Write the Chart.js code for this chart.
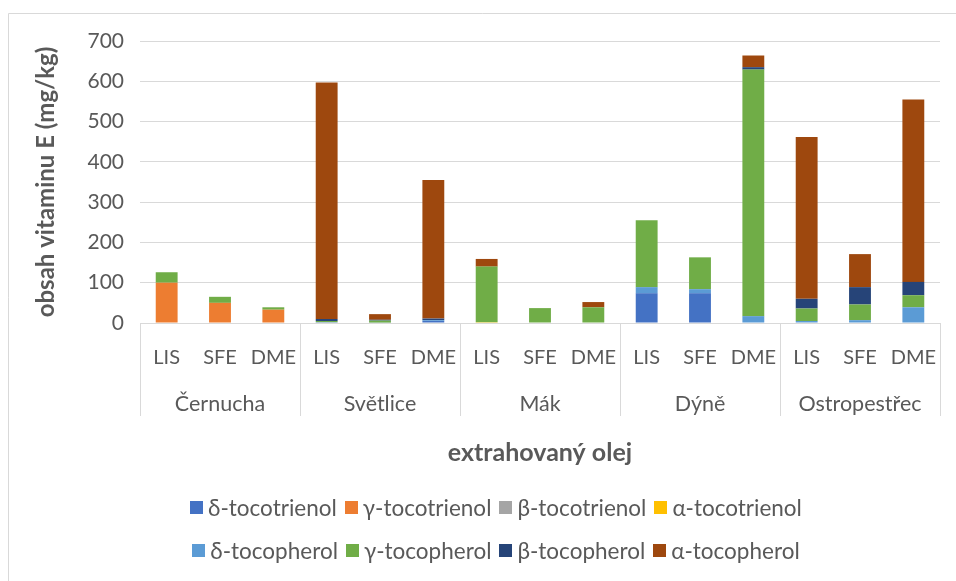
<!DOCTYPE html>
<html lang="cs">
<head>
<meta charset="utf-8">
<title>Obsah vitaminu E v extrahovaných olejích</title>
<script src="https://cdn.jsdelivr.net/npm/chart.js@4/dist/chart.umd.min.js"></script>
<style>
  html, body { margin: 0; padding: 0; background: #fff; }
  #wrap { position: relative; width: 956px; height: 581px; overflow: hidden; }
  #chart { position: absolute; left: 0; top: 0; }
  #legend { position: absolute; left: 36px; top: 486px; width: 920px; font-family: Lato, "Liberation Sans", sans-serif; font-size: 22.5px; color: #595959; }
  .row { display: flex; justify-content: center; height: 43px; align-items: center; }
  .item { display: flex; align-items: center; margin: 0 4px; white-space: nowrap; }
  .sw { width: 13px; height: 13px; margin-right: 5px; }
</style>
</head>
<body>
<div id="wrap">
  <canvas id="chart" width="956" height="581"></canvas>
  <div id="legend"></div>
</div>
<script>
// Oils and extraction methods
const groups = ['Černucha', 'Světlice', 'Mák', 'Dýně', 'Ostropestřec'];
const methods = ['LIS', 'SFE', 'DME'];
const categories = groups.flatMap(g => methods.map(m => g + ' ' + m));
const methodLabels = groups.flatMap(() => methods);

// Tocotrienols and tocopherols, mg/kg (order: LIS, SFE, DME per oil)
const deltaTocotrienol = [0, 0, 0,   2, 0, 5,     0, 0, 0,    74, 74, 0,    0, 0, 0];
const gammaTocotrienol = [100, 50, 33, 0, 0, 0,   0, 0, 0,    0, 0, 0,      0, 0, 0];
const betaTocotrienol  = [0, 0, 0,   0, 0, 0,     0, 0, 0,    0, 0, 0,      0, 0, 0];
const alphaTocotrienol = [0, 0, 0,   0, 0, 0,     2, 0, 0,    0, 0, 0,      0, 0, 0];
const deltaTocopherol  = [0, 0, 0,   0, 1, 2,     0, 0, 0,    15, 10, 17,   5, 7, 39];
const gammaTocopherol  = [26, 15, 6, 3, 5, 0,     138, 37, 39, 166, 79, 612, 31, 39, 30];
const betaTocopherol   = [0, 0, 0,   5, 2, 4,     0, 0, 0,    0, 0, 6,      24, 43, 33];
const alphaTocopherol  = [0, 0, 0,   587, 14, 344, 19, 0, 13, 0, 0, 29,     402, 82, 453];

const yTicks = [0, 100, 200, 300, 400, 500, 600, 700];

const series = [
  { label: 'δ-tocotrienol', data: deltaTocotrienol, color: '#4472C4' },
  { label: 'γ-tocotrienol', data: gammaTocotrienol, color: '#ED7D31' },
  { label: 'β-tocotrienol', data: betaTocotrienol,  color: '#A5A5A5' },
  { label: 'α-tocotrienol', data: alphaTocotrienol, color: '#FFC000' },
  { label: 'δ-tocopherol',  data: deltaTocopherol,  color: '#5B9BD5' },
  { label: 'γ-tocopherol',  data: gammaTocopherol,  color: '#70AD47' },
  { label: 'β-tocopherol',  data: betaTocopherol,   color: '#264478' },
  { label: 'α-tocopherol',  data: alphaTocopherol,  color: '#9E480E' }
];

const FONT = 'Lato, "Liberation Sans", sans-serif';
const TEXT = '#595959';
const LINE = '#D9D9D9';

// Frame around the chart and the dividers between oil groups
const framePlugin = {
  id: 'frame',
  beforeDraw(chart) {
    const c = chart.ctx;
    c.save();
    c.fillStyle = '#fff';
    c.fillRect(0, 0, chart.width, chart.height);
    c.strokeStyle = LINE;
    c.lineWidth = 1;
    c.beginPath();
    c.moveTo(8.5, chart.height);
    c.lineTo(8.5, 13.5);
    c.lineTo(chart.width, 13.5);
    c.stroke();
    c.restore();
  },
  afterDraw(chart) {
    const x = chart.scales.x;
    const area = chart.chartArea;
    const c = chart.ctx;
    const xs = [area.left];
    for (let i = 1; i < groups.length; i++) {
      const k = i * methods.length;
      xs.push((x.getPixelForValue(k - 1) + x.getPixelForValue(k)) / 2);
    }
    xs.push(area.right);
    c.save();
    c.strokeStyle = LINE;
    c.lineWidth = 1;
    c.beginPath();
    xs.forEach(px => {
      const p = Math.round(px) + 0.5;
      c.moveTo(p, area.bottom);
      c.lineTo(p, 416);
    });
    c.stroke();
    c.restore();
  }
};

const chart = new Chart(document.getElementById('chart'), {
  type: 'bar',
  data: {
    labels: categories,
    datasets: series.map(s => ({
      label: s.label,
      data: s.data,
      backgroundColor: s.color,
      borderWidth: 0,
      barPercentage: 0.41,
      categoryPercentage: 1
    }))
  },
  options: {
    responsive: false,
    animation: false,
    layout: { padding: { left: 28, right: 16, top: 41, bottom: 109 } },
    plugins: {
      legend: { display: false },
      tooltip: { enabled: false }
    },
    scales: {
      x: {
        stacked: true,
        grid: { display: false },
        border: { display: false },
        ticks: {
          autoSkip: false, maxRotation: 0, padding: 15,
          color: TEXT, font: { family: FONT, size: 20 },
          callback: (v, i) => methodLabels[i]
        },
        afterFit: s => { s.height = 55; }
      },
      x2: {
        type: 'category',
        position: 'bottom',
        labels: groups,
        offset: true,
        grid: { display: false },
        border: { display: false },
        ticks: { maxRotation: 0, padding: 5, color: TEXT, font: { family: FONT, size: 21.5 } },
        title: {
          display: true, text: 'extrahovaný olej', color: TEXT,
          font: { family: FONT, size: 25, weight: 'bold' }
        },
        afterFit: s => { s.height = 94; }
      },
      y: {
        stacked: true,
        min: 0, max: 700,
        afterBuildTicks: s => { s.ticks = yTicks.map(v => ({ value: v })); },
        grid: { color: LINE, lineWidth: 1, drawTicks: false },
        border: { display: false },
        ticks: { padding: 16, color: TEXT, font: { family: FONT, size: 21 } },
        title: {
          display: true, text: 'obsah vitaminu E (mg/kg)', color: TEXT,
          font: { family: FONT, size: 24, weight: 'bold' }
        },
        afterFit: s => { s.width = 112; }
      }
    }
  },
  plugins: [framePlugin]
});

// Legend in two rows of four, built from the chart's datasets
const legend = document.getElementById('legend');
[chart.data.datasets.slice(0, 4), chart.data.datasets.slice(4)].forEach(row => {
  const r = document.createElement('div');
  r.className = 'row';
  row.forEach(ds => {
    const it = document.createElement('div');
    it.className = 'item';
    const sw = document.createElement('span');
    sw.className = 'sw';
    sw.style.background = ds.backgroundColor;
    const tx = document.createElement('span');
    tx.textContent = ds.label;
    it.appendChild(sw);
    it.appendChild(tx);
    r.appendChild(it);
  });
  legend.appendChild(r);
});
</script>
</body>
</html>
